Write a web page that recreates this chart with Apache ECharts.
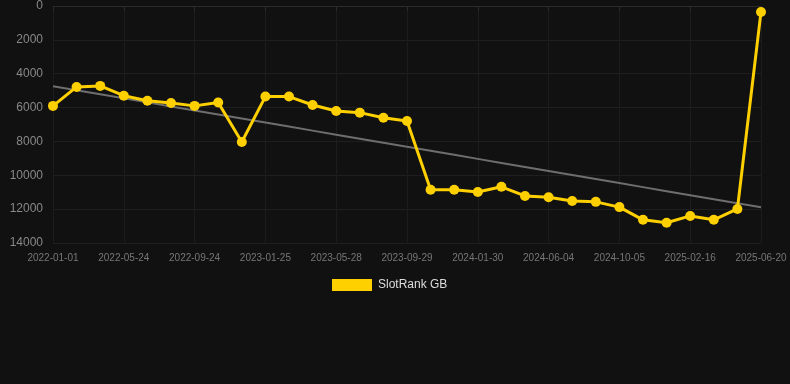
<!DOCTYPE html>
<html><head><meta charset="utf-8">
<script src="https://cdn.jsdelivr.net/npm/echarts@6/dist/echarts.min.js"></script>
<style>html,body{margin:0;padding:0;background:#111111;}#c{width:790px;height:384px;}</style>
</head><body><div id="c"></div>
<script>
const categories = ["2022-01-01","2022-02-18","2022-04-06","2022-05-24","2022-07-04","2022-08-14","2022-09-24","2022-11-05","2022-12-15","2023-01-25","2023-03-06","2023-04-17","2023-05-28","2023-07-08","2023-08-19","2023-09-29","2023-11-09","2023-12-20","2024-01-30","2024-03-11","2024-04-24","2024-06-04","2024-07-15","2024-08-25","2024-10-05","2024-11-17","2025-01-05","2025-02-16","2025-03-30","2025-05-10","2025-06-20"];
const slotRankGB = [5900,4780,4720,5300,5600,5730,5900,5700,8030,5350,5350,5850,6200,6300,6600,6790,10850,10850,10990,10680,11220,11300,11520,11570,11880,12630,12800,12400,12630,11990,350];
const seriesName = "SlotRank GB";

// linear regression trend over index
const n = slotRankGB.length;
let sx=0, sy=0, sxy=0, sxx=0;
slotRankGB.forEach((v,i)=>{sx+=i;sy+=v;sxy+=i*v;sxx+=i*i;});
const slope = (n*sxy - sx*sy)/(n*sxx - sx*sx);
const intercept = (sy - slope*sx)/n;
const trend = slotRankGB.map((v,i)=>intercept + slope*i);

const chart = echarts.init(document.getElementById('c'));
const font = "'Liberation Sans', Arial, sans-serif";
chart.setOption({
  backgroundColor: '#111111',
  animation: false,
  grid: {left: 53, right: 29, top: 6, bottom: 141},
  legend: {
    data: [seriesName], bottom: 88, left: 327,
    itemWidth: 40, itemHeight: 12, itemGap: 10,
    textStyle: {color: '#dddddd', fontSize: 12, fontFamily: font, padding: [0,0,0,1]},
    icon: 'rect'
  },
  xAxis: {
    type: 'category', data: categories, boundaryGap: false,
    axisLine: {lineStyle: {color: '#2a2a2a'}},
    axisTick: {show: true, interval: 2, lineStyle: {color: '#2a2a2a'}},
    axisLabel: {interval: 2, color: '#777777', fontSize: 10, fontFamily: font, margin: 10},
    splitLine: {show: true, interval: 2, lineStyle: {color: '#1c1c1c'}}
  },
  yAxis: {
    type: 'value', inverse: true, min: 0, max: 14000, interval: 2000,
    axisLine: {show: false}, axisTick: {show: false},
    axisLabel: {color: '#888888', fontSize: 12, fontFamily: font, margin: 10,
      formatter: v => String(v)},
    splitLine: {lineStyle: {color: '#1f1f1f'}}
  },
  series: [
    {
      name: seriesName, type: 'line', data: slotRankGB,
      symbol: 'circle', symbolSize: 10,
      lineStyle: {color: '#ffd000', width: 3},
      itemStyle: {color: '#ffd000'},
      z: 3
    },
    {
      name: 'Trend', type: 'line', data: trend, symbol: 'none',
      lineStyle: {color: '#6e6e6e', width: 2},
      silent: true, z: 2
    }
  ]
});
</script></body></html>
